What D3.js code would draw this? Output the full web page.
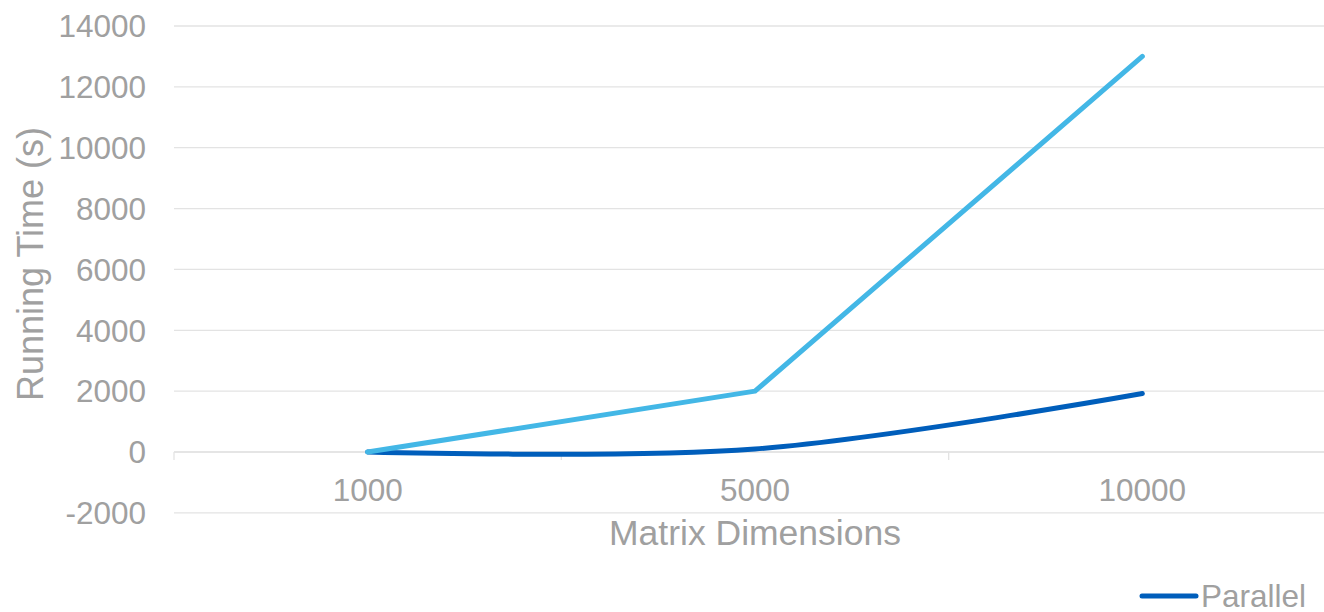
<!DOCTYPE html>
<html>
<head>
<meta charset="utf-8">
<script src="https://cdn.jsdelivr.net/npm/d3@7/dist/d3.min.js"></script>
<style>
  html, body { margin: 0; padding: 0; background: #ffffff; }
  svg { display: block; font-family: "Liberation Sans", Arial, sans-serif; }
</style>
</head>
<body>
<svg id="chart" width="1324" height="612"></svg>
<script>
// Matrix sizes on the category axis
const categories = ["1000", "5000", "10000"];
// Running times in seconds
const sequentialTimes = [0, 2000, 13000];
const parallelTimes = [0, 100, 1920];
// Value axis ticks
const yTicks = [-2000, 0, 2000, 4000, 6000, 8000, 10000, 12000, 14000];

const seriesNames = ["Sequential", "Parallel"];

(function () {
  const svg = d3.select("#chart");
  const W = 1324;

  const textColor = "#a0a0a0";
  const gridColor = "#e3e3e3";
  const lightBlue = "#43b7e6";
  const darkBlue = "#005ebb";

  // Plot area (extends slightly past the right edge of the canvas)
  const plotLeft = 174, plotRight = 1336;
  const plotTop = 26, zeroY = 452;

  const x = d3.scaleBand().domain(categories).range([plotLeft, plotRight]).padding(0);
  const pxPerUnit = (zeroY - plotTop) / 14000;
  const y = d3.scaleLinear()
    .domain([-2000, 14000])
    .range([zeroY + 2000 * pxPerUnit, plotTop]);

  // Horizontal gridlines
  svg.append("g")
    .selectAll("line")
    .data(yTicks)
    .join("line")
    .attr("x1", plotLeft).attr("x2", W)
    .attr("y1", d => y(d)).attr("y2", d => y(d))
    .attr("stroke", gridColor)
    .attr("stroke-width", 1.3);

  // Y tick labels
  svg.append("g")
    .selectAll("text")
    .data(yTicks)
    .join("text")
    .attr("x", 146)
    .attr("y", d => y(d))
    .attr("dy", "0.36em")
    .attr("text-anchor", "end")
    .attr("font-size", 31.5)
    .attr("fill", textColor)
    .text(d => d);

  // Category axis along zero, with ticks between categories
  const xAxis = d3.axisBottom(x).tickSize(0).tickFormat(() => "");
  const axisG = svg.append("g").attr("transform", `translate(0,${y(0)})`).call(xAxis);
  axisG.select(".domain").remove();
  axisG.append("line")
    .attr("x1", plotLeft).attr("x2", W)
    .attr("y1", 0).attr("y2", 0)
    .attr("stroke", gridColor).attr("stroke-width", 1.3);
  const boundaries = categories.map(c => x(c)).concat([x(categories[categories.length - 1]) + x.bandwidth()]);
  axisG.selectAll("line.tick-mark")
    .data(boundaries)
    .join("line")
    .attr("class", "tick-mark")
    .attr("x1", d => d).attr("x2", d => d)
    .attr("y1", 0).attr("y2", 8)
    .attr("stroke", gridColor).attr("stroke-width", 1.3);

  // Category labels
  svg.append("g")
    .selectAll("text")
    .data(categories)
    .join("text")
    .attr("x", d => x(d) + x.bandwidth() / 2)
    .attr("y", 501)
    .attr("text-anchor", "middle")
    .attr("font-size", 31.5)
    .attr("fill", textColor)
    .text(d => d);

  // Axis titles
  svg.append("text")
    .attr("x", x(categories[1]) + x.bandwidth() / 2)
    .attr("y", 545)
    .attr("text-anchor", "middle")
    .attr("font-size", 35.5)
    .attr("fill", textColor)
    .text("Matrix Dimensions");

  svg.append("text")
    .attr("transform", "translate(43,264) rotate(-90)")
    .attr("text-anchor", "middle")
    .attr("font-size", 36)
    .attr("fill", textColor)
    .text("Running Time (s)");

  const cx = (d, i) => x(categories[i]) + x.bandwidth() / 2;

  // Parallel series (smoothed)
  const smoothLine = d3.line()
    .x(cx)
    .y(d => y(d))
    .curve(d3.curveCardinal.tension(0));

  svg.append("path")
    .datum(parallelTimes)
    .attr("d", smoothLine)
    .attr("fill", "none")
    .attr("stroke", darkBlue)
    .attr("stroke-width", 5)
    .attr("stroke-linecap", "round")
    .attr("stroke-linejoin", "round");

  // Sequential series (straight segments)
  const straightLine = d3.line()
    .x(cx)
    .y(d => y(d));

  svg.append("path")
    .datum(sequentialTimes)
    .attr("d", straightLine)
    .attr("fill", "none")
    .attr("stroke", lightBlue)
    .attr("stroke-width", 5)
    .attr("stroke-linecap", "round")
    .attr("stroke-linejoin", "round");

  // Legend entry
  const legend = svg.append("g").attr("transform", "translate(1142,596)");
  legend.append("line")
    .attr("x1", 0).attr("x2", 54)
    .attr("y1", 0).attr("y2", 0)
    .attr("stroke", darkBlue)
    .attr("stroke-width", 5)
    .attr("stroke-linecap", "round");
  legend.append("text")
    .attr("x", 59)
    .attr("y", 0)
    .attr("dy", "0.36em")
    .attr("font-size", 31.5)
    .attr("fill", textColor)
    .text(seriesNames[1]);
})();
</script>
</body>
</html>
